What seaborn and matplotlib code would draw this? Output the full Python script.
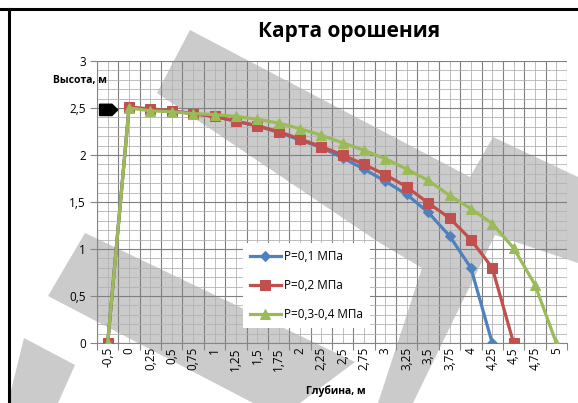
import numpy as np
import pandas as pd
import matplotlib
matplotlib.use("Agg")
import matplotlib.pyplot as plt
from matplotlib.patches import Polygon
from matplotlib.lines import Line2D
import seaborn as sns

# ---------------- data ----------------
categories = ["-0,5", "0", "0,25", "0,5", "0,75", "1", "1,25", "1,5", "1,75", "2",
              "2,25", "2,5", "2,75", "3", "3,25", "3,5", "3,75", "4", "4,25", "4,5",
              "4,75", "5"]
nan = np.nan
p_01 = [0, 2.50, 2.49, 2.47, 2.44, 2.41, 2.36, 2.31, 2.24, 2.16, 2.08, 1.97, 1.85,
        1.72, 1.58, 1.39, 1.14, 0.80, 0, nan, nan, nan]
p_02 = [0, 2.51, 2.49, 2.47, 2.44, 2.41, 2.36, 2.31, 2.25, 2.17, 2.09, 2.00, 1.90,
        1.79, 1.66, 1.49, 1.33, 1.10, 0.80, 0, nan, nan]
p_034 = [0, 2.50, 2.47, 2.46, 2.44, 2.43, 2.41, 2.38, 2.34, 2.28, 2.21, 2.13, 2.05,
         1.96, 1.85, 1.73, 1.57, 1.43, 1.27, 1.01, 0.62, 0]
series_names = ["P=0,1 МПа", "P=0,2 МПа", "P=0,3-0,4 МПа"]
y_ticks = [0, 0.5, 1, 1.5, 2, 2.5, 3]
y_tick_labels = ["0", "0,5", "1", "1,5", "2", "2,5", "3"]
title = "Карта орошения"
x_title = "Глубина, м"
y_title = "Высота, м"

# ---------------- figure ----------------
W, H = 578, 403
plt.rcParams['font.family'] = ['Open Sans', 'DejaVu Sans']
fig = plt.figure(figsize=(W / 100, H / 100), dpi=100)
fig.patch.set_facecolor("white")

def fp(pts):
    return [(x / W, 1 - y / H) for x, y in pts]

# background watermark bands (drawn beneath the axes)
band_color = "#cbcbcb"
bands = [
    [(190, 30), (470, 177), (493, 137), (578, 177), (578, 263), (495, 235),
     (473, 280), (413, 403), (378, 403), (422, 268), (380, 243), (157, 93)],
    [(85, 233), (355, 362), (300, 403), (253, 403), (48, 296)],
    [(8, 403), (24, 338), (75, 365), (58, 403)],
]
for b in bands:
    fig.patches.append(Polygon(fp(b), closed=True, transform=fig.transFigure,
                               facecolor=band_color, edgecolor="none", zorder=-5))

# frame lines of the screenshot
fig.lines.append(Line2D([0, 1], [1 - 8.5 / H, 1 - 8.5 / H], transform=fig.transFigure,
                        color="black", linewidth=2.2, zorder=-4))
fig.lines.append(Line2D([8.5 / W, 8.5 / W], [0, 1 - 8.5 / H], transform=fig.transFigure,
                        color="black", linewidth=2.2, zorder=-4))

ax = fig.add_axes([97 / W, 1 - 343 / H, 470 / W, 282 / H])
ax.set_zorder(1)
ax.patch.set_alpha(0)

pos = np.arange(len(categories))
styles = [("#4F81BD", "D", 5.5), ("#C0504D", "s", 7), ("#9BBB59", "^", 7)]
for name, vals, (c, m, ms) in zip(series_names, [p_01, p_02, p_034], styles):
    df = pd.DataFrame({"x": pos, "y": vals}).dropna()
    sns.lineplot(data=df, x="x", y="y", ax=ax, color=c, marker=m, markersize=ms,
                 markeredgecolor=c, linewidth=2.3, label=name, zorder=3)

# black arrow marker at the left
arrow = Polygon([(-0.38, 2.42), (0.2, 2.42), (0.47, 2.48), (0.2, 2.54), (-0.38, 2.54)],
                closed=True, facecolor="black", edgecolor="black", zorder=5)
ax.add_patch(arrow)

ax.set_xlim(-0.5, len(categories) - 0.5)
ax.set_ylim(0, 3)
ax.set_xticks(np.arange(-0.5, len(categories)))
ax.set_xticks(pos, minor=True)
ax.set_xticklabels(categories, minor=True, rotation=90, fontsize=8.5)
ax.tick_params(axis='x', which='major', labelbottom=False, bottom=True, length=5,
               width=0.8, color='#868686')
ax.tick_params(axis='x', which='minor', length=0, pad=3)
ax.set_yticks(y_ticks)
ax.set_yticklabels(y_tick_labels, fontsize=8.5)
ax.set_yticks(np.arange(0, 3.001, 0.1), minor=True)
ax.tick_params(axis='y', which='major', left=True, length=5, width=0.8,
               color='#868686', pad=3)
ax.tick_params(axis='y', which='minor', length=0)
ax.grid(which='major', color='#7f7f7f', linewidth=0.8)
ax.grid(which='minor', color='#b2b2b2', linewidth=0.6)
ax.set_axisbelow(True)
for s in ['top', 'right']:
    ax.spines[s].set_visible(False)
for s in ['left', 'bottom']:
    ax.spines[s].set_color('#868686')
ax.set_xlabel("")
ax.set_ylabel("")

leg = ax.legend(loc='upper left', bbox_to_anchor=(243 / W, 1 - 243 / H),
                bbox_transform=fig.transFigure, frameon=True, fontsize=8.5,
                labelspacing=1.35, handlelength=2.6, handletextpad=0.25,
                borderpad=0.6, borderaxespad=0, fancybox=False)
leg.get_frame().set_facecolor("white")
leg.get_frame().set_edgecolor("none")
leg.get_frame().set_alpha(1)
leg.set_zorder(6)

fig.text(349 / W, 1 - 32 / H, title, ha='center', va='center', fontsize=15,
         fontweight='bold')
fig.text(107 / W, 1 - 81 / H, y_title, ha='right', va='center', fontsize=7.5,
         fontweight='bold')
fig.text(336 / W, 1 - 391 / H, x_title, ha='center', va='center', fontsize=7.5,
         fontweight='bold')

fig.savefig("out.png", dpi=100)
